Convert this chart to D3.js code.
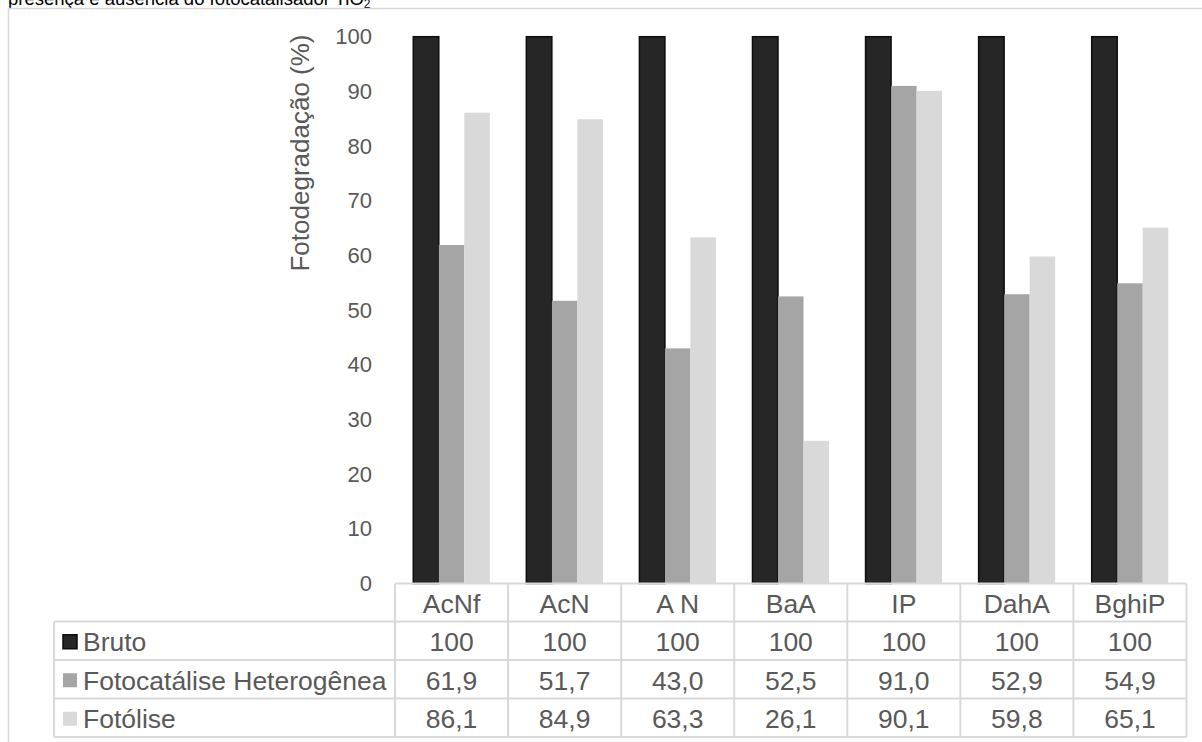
<!DOCTYPE html>
<html>
<head>
<meta charset="utf-8">
<script src="https://cdn.jsdelivr.net/npm/d3@7/dist/d3.min.js"></script>
<style>
  html, body { margin: 0; padding: 0; background: #fff; }
  svg { display: block; font-family: "Liberation Sans", Arial, sans-serif; }
</style>
</head>
<body>
<svg id="chart" width="1202" height="742"></svg>
<script>
// Compounds (x categories)
const categories = ["AcNf", "AcN", "A N", "BaA", "IP", "DahA", "BghiP"];
// Series
const seriesNames = ["Bruto", "Fotocatálise Heterogênea", "Fotólise"];
const bruto = [100, 100, 100, 100, 100, 100, 100];
const fotocatalise = [61.9, 51.7, 43.0, 52.5, 91.0, 52.9, 54.9];
const fotolise = [86.1, 84.9, 63.3, 26.1, 90.1, 59.8, 65.1];
const yTicks = [0, 10, 20, 30, 40, 50, 60, 70, 80, 90, 100];
const yTitle = "Fotodegradação (%)";

const seriesValues = [bruto, fotocatalise, fotolise];
const colors = ["#262626", "#a5a5a5", "#d9d9d9"];
const fmt = v => (v === 100 ? "100" : v.toFixed(1).replace(".", ","));

const svg = d3.select("#chart");
const textColor = "#595959";
const gridColor = "#d9d9d9";

// Caption line of the surrounding document (only its lower part is in view)
const cap = svg.append("text").attr("x", 8).attr("y", 4.5)
  .attr("font-size", 18.5).attr("fill", "#000");
cap.append("tspan").text("presença e ausência do fotocatalisador TiO");
cap.append("tspan").attr("font-size", 12).attr("dy", 3).text("2");

// Chart frame
svg.append("rect").attr("x", 8.5).attr("y", 8.5).attr("width", 1210).attr("height", 760)
  .attr("fill", "none").attr("stroke", gridColor).attr("stroke-width", 1.5);

// Plot geometry
const plotLeft = 395, plotRight = 1186.5, plotTop = 36.7, plotBottom = 583.5;
const x0 = d3.scaleBand().domain(categories).range([plotLeft, plotRight]).padding(0);
const x1 = d3.scaleBand().domain(seriesNames).range([0, x0.bandwidth()])
  .paddingInner(0).paddingOuter(0.716);
const y = d3.scaleLinear().domain([0, 100]).range([plotBottom, plotTop]);

// Bars
const groups = svg.append("g").selectAll("g")
  .data(categories).join("g")
  .attr("transform", c => `translate(${x0(c)},0)`);
groups.selectAll("rect")
  .data((c, i) => seriesNames.map((s, k) => ({ s, k, v: seriesValues[k][i] })))
  .join("rect")
  .attr("x", d => x1(d.s))
  .attr("width", x1.bandwidth())
  .attr("y", d => y(d.v))
  .attr("height", d => y(0) - y(d.v))
  .attr("fill", d => colors[d.k])
  .attr("stroke", d => d.k === 0 ? "#0d0d0d" : "none")
  .attr("stroke-width", 1.5);

// Y axis
const yAxis = d3.axisLeft(y).tickValues(yTicks).tickSize(0).tickPadding(23);
const ya = svg.append("g").attr("transform", `translate(${plotLeft},0)`).call(yAxis);
ya.select(".domain").remove();
ya.selectAll("text").attr("font-size", 22).attr("fill", textColor)
  .attr("font-family", "Liberation Sans, Arial, sans-serif");

// Y axis title
svg.append("text")
  .attr("transform", `translate(309,153) rotate(-90)`)
  .attr("text-anchor", "middle")
  .attr("font-size", 26).attr("fill", textColor)
  .text(yTitle);

// Data table
const tableLeft = 54;
const rowEdges = [583.5, 621.5, 660, 698.5, 737];
const table = svg.append("g");
const lineStyle = sel => sel.attr("stroke", gridColor).attr("stroke-width", 2);

// horizontal lines
table.append("line").attr("x1", plotLeft).attr("x2", plotRight)
  .attr("y1", rowEdges[0]).attr("y2", rowEdges[0]).call(lineStyle);
rowEdges.slice(1).forEach(yy => {
  table.append("line").attr("x1", tableLeft).attr("x2", plotRight)
    .attr("y1", yy).attr("y2", yy).call(lineStyle);
});
// vertical lines
table.append("line").attr("x1", tableLeft).attr("x2", tableLeft)
  .attr("y1", rowEdges[1]).attr("y2", rowEdges[4]).call(lineStyle);
categories.forEach(c => {
  table.append("line").attr("x1", x0(c)).attr("x2", x0(c))
    .attr("y1", rowEdges[0]).attr("y2", rowEdges[4]).call(lineStyle);
});
table.append("line").attr("x1", plotRight).attr("x2", plotRight)
  .attr("y1", rowEdges[0]).attr("y2", rowEdges[4]).call(lineStyle);

const cellText = (xx, yy, t, anchor) => table.append("text")
  .attr("x", xx).attr("y", yy).attr("dy", "0.35em")
  .attr("text-anchor", anchor).attr("font-size", 26.5).attr("fill", textColor).text(t);

// header row: category names
categories.forEach(c => cellText(x0(c) + x0.bandwidth() / 2, (rowEdges[0] + rowEdges[1]) / 2 + 1, c, "middle"));

// series rows
seriesNames.forEach((s, k) => {
  const cy = (rowEdges[k + 1] + rowEdges[k + 2]) / 2 + 1;
  table.append("rect").attr("x", 63).attr("y", cy - 7).attr("width", 14).attr("height", 14)
    .attr("fill", colors[k])
    .attr("stroke", k === 0 ? "#0d0d0d" : "none").attr("stroke-width", 1.5);
  cellText(83, cy, s, "start");
  categories.forEach((c, i) => cellText(x0(c) + x0.bandwidth() / 2, cy, fmt(seriesValues[k][i]), "middle"));
});
</script>
</body>
</html>
